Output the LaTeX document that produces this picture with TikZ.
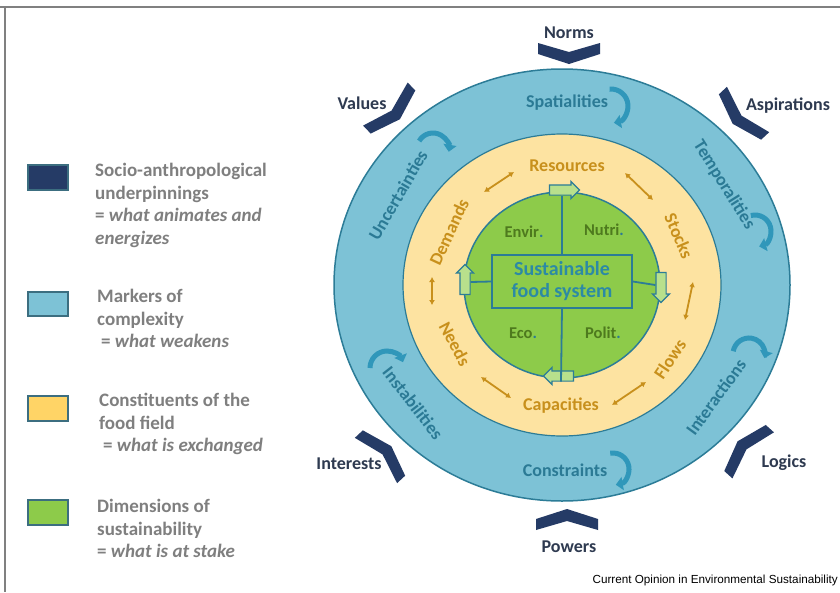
\documentclass[tikz,border=0pt]{standalone}
\usepackage{fontspec}
\setmainfont{Carlito}
\newfontfamily\sourcefont{Liberation Sans}
\usetikzlibrary{arrows.meta,shapes.arrows}

\definecolor{navy}{HTML}{253B66}
\definecolor{labelnavy}{HTML}{2E3A50}
\definecolor{ringblue}{HTML}{7DC2D6}
\definecolor{ringedge}{HTML}{2C7C97}
\definecolor{bluetext}{HTML}{2B7A95}
\definecolor{paleyellow}{HTML}{FDE3A1}
\definecolor{swatchyellow}{HTML}{FFD466}
\definecolor{fieldorange}{HTML}{C8901C}
\definecolor{dimgreen}{HTML}{8DCB4A}
\definecolor{greentext}{HTML}{4E7A1E}
\definecolor{centertext}{HTML}{2C8AA5}
\definecolor{arrowgreen}{HTML}{B8E08C}
\definecolor{turnblue}{HTML}{3097BA}
\definecolor{legendgray}{HTML}{7F7F7F}
\definecolor{swatchedge}{HTML}{3C6E80}

\tikzset{
  outerlbl/.style={font=\bfseries\fontsize{18}{21}\selectfont, text=labelnavy},
  ringlbl/.style={font=\bfseries\fontsize{18}{21}\selectfont, text=bluetext},
  fieldlbl/.style={font=\bfseries\fontsize{18}{21}\selectfont, text=fieldorange},
  dimlbl/.style={font=\bfseries\fontsize{16.5}{19}\selectfont, text=greentext},
  legendtxt/.style={font=\bfseries\fontsize{19}{22.7}\selectfont, text=legendgray,
    align=left, anchor=north west, inner sep=0pt},
  swatch/.style={draw=swatchedge, line width=1.5pt},
  exch/.style={draw=fieldorange, line width=1.8pt,
    {Latex[length=5pt,width=6pt]}-{Latex[length=5pt,width=6pt]}},
  turn/.style={draw=turnblue, line width=5pt, -{Triangle[length=7pt,width=13pt]}},
  flowarrow/.style={single arrow, draw=ringedge, fill=arrowgreen, line width=1.2pt,
    minimum height=30pt, minimum width=17pt, inner xsep=0pt, inner ysep=4.5pt,
    single arrow head extend=3.5pt},
  divider/.style={draw=ringedge, line width=1.8pt},
  pics/chevron/.style={code={
    \fill[navy] (-31,-11) -- (0,-2) -- (31,-11) -- (31,0) -- (0,10) -- (-31,0) -- cycle;}}
}

\begin{document}
\begin{tikzpicture}[x=1pt, y=-1pt]
    \fill[white] (0,0) rectangle (840,592);
    \useasboundingbox (0,0) rectangle (840,592);
    \draw[gray, line width=1.5pt] (0,7) -- (840,7);
    \draw[gray, line width=1.5pt] (5,7) -- (5,592);

    \coordinate (c) at (562,285);

    % Rings
    \draw[fill=ringblue, draw=ringedge, line width=1.5pt]
      (c) ellipse [x radius=228, y radius=216];
    \draw[fill=paleyellow, draw=ringedge, line width=1.2pt]
      (c) ellipse [x radius=159, y radius=151];
    \draw[fill=dimgreen, draw=ringedge, line width=1.5pt]
      (c) ellipse [x radius=98, y radius=93];

    % Dimensions of sustainability
    \node[draw=ringedge, fill=dimgreen, line width=1.5pt, minimum width=140pt,
      minimum height=53pt, align=center, text=centertext,
      font=\bfseries\fontsize{20}{22}\selectfont] (sfs) at (562,281.5)
      {Sustainable\\food system};
    \node[flowarrow] (ftop) at (562,190) {};
    \node[flowarrow, rotate=-90] (fright) at (661,285) {};
    \node[flowarrow, rotate=180] (fbottom) at (561,376) {};
    \node[flowarrow, rotate=90] (fleft) at (465,282) {};
    \draw[divider] (sfs.north) -- (ftop.south);
    \draw[divider] (sfs.east) -- (fright.south);
    \draw[divider] (sfs.south) -- (fbottom.north);
    \draw[divider] (sfs.west) -- (fleft.south);
    \node[dimlbl] (envir) at (524,232) {Envir{\color{bluetext}.}};
    \node[dimlbl] (nutri) at (604,230) {Nutri{\color{bluetext}.}};
    \node[dimlbl] (eco) at (523,333) {Eco{\color{bluetext}.}};
    \node[dimlbl] (polit) at (603,333) {Polit{\color{bluetext}.}};

    % Constituents of the food field
    \node[fieldlbl] (resources) at (567,166) {Resources};
    \node[fieldlbl] (capacities) at (561,406) {Capacities};
    \node[fieldlbl, rotate=65] (demands) at (449,232) {Demands};
    \node[fieldlbl, rotate=-67] (stocks) at (679,236) {Stocks};
    \node[fieldlbl, rotate=-62] (needs) at (455,344) {Needs};
    \node[fieldlbl, rotate=56] (flows) at (670,359) {Flows};

    \coordinate (rd1) at (484,192);
    \coordinate (rd2) at (514,172);
    \coordinate (rs1) at (625,173);
    \coordinate (rs2) at (653,200);
    \coordinate (dn1) at (432,277);
    \coordinate (dn2) at (432,305);
    \coordinate (sf1) at (693,282);
    \coordinate (sf2) at (685,320);
    \coordinate (nc1) at (481,377);
    \coordinate (nc2) at (511,398);
    \coordinate (cf1) at (612,405);
    \coordinate (cf2) at (646,382);
    \draw[exch] (rd1) -- (rd2);
    \draw[exch] (rs1) -- (rs2);
    \draw[exch] (dn1) -- (dn2);
    \draw[exch] (sf1) -- (sf2);
    \draw[exch] (nc1) -- (nc2);
    \draw[exch] (cf1) -- (cf2);

    % Markers of complexity
    \node[ringlbl] (spatial) at (567,103) {Spatialities};
    \node[ringlbl] (constr) at (565,470) {Constraints};
    \node[ringlbl, rotate=60] (uncert) at (398,195) {Uncertainties};
    \node[ringlbl, rotate=-58] (tempor) at (724,185) {Temporalities};
    \node[ringlbl, rotate=-52] (instab) at (413,403) {Instabilities};
    \node[ringlbl, rotate=54] (interact) at (716,397) {Interactions};

    \draw[turn] ([shift={(-95:17)}]611,106) arc[start angle=-95, end angle=80, radius=17];
    \draw[turn] ([shift={(-100:16)}]613,469) arc[start angle=-100, end angle=80, radius=16];
    \draw[turn] ([shift={(-105:16)}]755,231) arc[start angle=-105, end angle=75, radius=16];
    \draw[turn] ([shift={(-150:16)}]433,149) arc[start angle=-150, end angle=10, radius=16];
    \draw[turn] ([shift={(-170:16)}]749,354) arc[start angle=-170, end angle=15, radius=16];
    \draw[turn] ([shift={(180:17)}]387,368) arc[start angle=180, end angle=340, radius=17];

    % Socio-anthropological underpinnings
    \pic[rotate=0] at (569,54) {chevron};
    \pic[rotate=180] at (567,519) {chevron};
    \pic[rotate=44] at (393,112) {chevron};
    \pic[rotate=-47] at (740,117) {chevron};
    \pic[rotate=-132] at (745,448) {chevron};
    \pic[rotate=133] at (384,453) {chevron};
    \node[outerlbl] (norms) at (569,33) {Norms};
    \node[outerlbl] (powers) at (569,547) {Powers};
    \node[outerlbl] (values) at (362,103) {Values};
    \node[outerlbl] (aspir) at (788,106) {Aspirations};
    \node[outerlbl] (interests) at (349,464) {Interests};
    \node[outerlbl] (logics) at (784,463) {Logics};

    % Legend
    \draw[swatch, fill=navy] (28,165) rectangle (68,190);
    \draw[swatch, fill=ringblue] (28,292) rectangle (68,316);
    \draw[swatch, fill=swatchyellow] (28,396) rectangle (68,421);
    \draw[swatch, fill=dimgreen] (28,500) rectangle (68,525);
    \node[legendtxt] (leg1) at (95,163)
      {Socio-anthropological\\underpinnings\\= \textit{what animates and}\\\textit{energizes}};
    \node[legendtxt] (leg2) at (97,289)
      {Markers of\\complexity\\\hspace*{4pt}= \textit{what weakens}};
    \node[legendtxt] (leg3) at (99,393)
      {Constituents of the\\food field\\\hspace*{4pt}= \textit{what is exchanged}};
    \node[legendtxt] (leg4) at (97,499)
      {Dimensions of\\sustainability\\= \textit{what is at stake}};

    \node[font=\sourcefont\fontsize{11.7}{13}\selectfont, anchor=base east, inner sep=0pt]
      (source) at (838,583) {Current Opinion in Environmental Sustainability};
\end{tikzpicture}
\end{document}
